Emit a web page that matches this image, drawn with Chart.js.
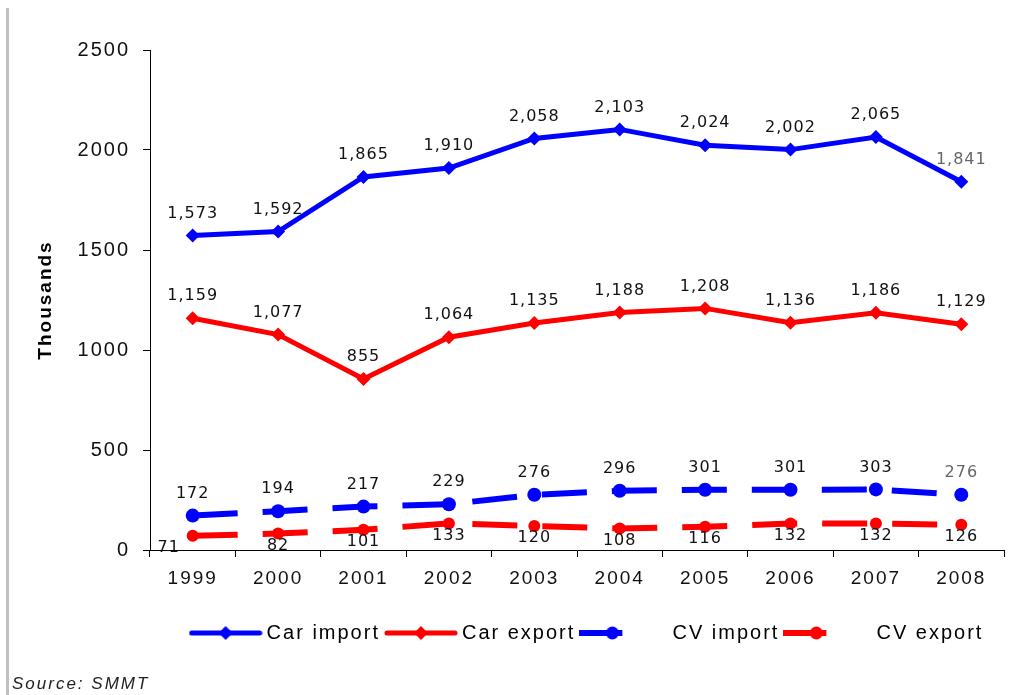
<!DOCTYPE html>
<html>
<head>
<meta charset="utf-8">
<script src="https://cdn.jsdelivr.net/npm/chart.js@4.4.1/dist/chart.umd.min.js"></script>
<style>
  html, body { margin: 0; padding: 0; background: #fff; }
  #wrap { position: relative; width: 1031px; height: 695px; }
  #edge { position: absolute; left: 6px; top: 8px; width: 3px; height: 687px; background: #c0c0c0; }
  #source { position: absolute; left: 12px; top: 674px; font: italic 17px "Liberation Sans", Arial, sans-serif; letter-spacing: 2px; color: #222; }
</style>
</head>
<body>
<div id="wrap">
  <canvas id="chart" width="1031" height="695"></canvas>
  <div id="edge"></div>
  <div id="source">Source: SMMT</div>
</div>
<script>
const years = ['1999', '2000', '2001', '2002', '2003', '2004', '2005', '2006', '2007', '2008'];
const carImport = [1573, 1592, 1865, 1910, 2058, 2103, 2024, 2002, 2065, 1841];
const carExport = [1159, 1077, 855, 1064, 1135, 1188, 1208, 1136, 1186, 1129];
const cvImport = [172, 194, 217, 229, 276, 296, 301, 301, 303, 276];
const cvExport = [71, 82, 101, 133, 120, 108, 116, 132, 132, 126];
const yTicks = [0, 500, 1000, 1500, 2000, 2500];

const BLUE = '#0000ff';
const RED = '#ff0000';

// little legend swatches: line with marker
function makeSample(color, shape) {
  const c = document.createElement('canvas');
  c.width = 74;
  c.height = 16;
  const g = c.getContext('2d');
  g.fillStyle = color;
  g.strokeStyle = color;
  if (shape === 'diamond') {
    g.lineWidth = 5;
    g.lineCap = 'round';
    g.beginPath();
    g.moveTo(3, 8);
    g.lineTo(71, 8);
    g.stroke();
    g.beginPath();
    g.moveTo(37, 1);
    g.lineTo(44, 8);
    g.lineTo(37, 15);
    g.lineTo(30, 8);
    g.closePath();
    g.fill();
  } else {
    g.lineWidth = 6;
    g.beginPath();
    g.moveTo(0, 8);
    g.lineTo(43, 8);
    g.stroke();
    g.beginPath();
    g.arc(33, 8, 6.5, 0, Math.PI * 2);
    g.fill();
  }
  return c;
}

const setSpacing = {
  id: 'setSpacing',
  beforeUpdate(chart) { chart.ctx.letterSpacing = '2px'; },
  beforeLayout(chart) { chart.ctx.letterSpacing = '2px'; },
  afterLayout(chart) {
    // nudge the legend a little to the right, as in the original
    if (chart.legend) { chart.legend.left += 12; chart.legend.right += 12; }
  },
  beforeDraw(chart) { chart.ctx.letterSpacing = '2px'; }
};

const valueLabels = {
  id: 'valueLabels',
  afterDatasetsDraw(chart) {
    const ctx = chart.ctx;
    chart.data.datasets.forEach((ds, i) => {
      const meta = chart.getDatasetMeta(i);
      meta.data.forEach((pt, j) => {
        const v = ds.data[j];
        let x = pt.x;
        let y = ds.labelAt === 'below' ? pt.y + 12 : pt.y - 22;
        if (ds.labelAt === 'below' && j === 0) x -= 24;
        ctx.save();
        ctx.letterSpacing = '1px';
        ctx.font = '16px "DejaVu Sans", Verdana, sans-serif';
        ctx.fillStyle = (j === ds.data.length - 1 && ds.greyLast) ? '#666' : '#111';
        ctx.textAlign = 'center';
        ctx.textBaseline = 'middle';
        ctx.fillText(v.toLocaleString('en-US'), x, y);
        ctx.restore();
      });
    });
  }
};

new Chart(document.getElementById('chart'), {
  type: 'line',
  data: {
    labels: years,
    datasets: [
      {
        label: 'Car import', data: carImport, borderColor: BLUE, backgroundColor: BLUE,
        borderWidth: 5, pointStyle: 'rectRot', pointRadius: 7, pointBorderWidth: 0,
        labelAt: 'above', greyLast: true, legendImg: makeSample(BLUE, 'diamond')
      },
      {
        label: 'Car export', data: carExport, borderColor: RED, backgroundColor: RED,
        borderWidth: 5, pointStyle: 'rectRot', pointRadius: 7, pointBorderWidth: 0,
        labelAt: 'above', legendImg: makeSample(RED, 'diamond')
      },
      {
        label: '  CV import', data: cvImport, borderColor: BLUE, backgroundColor: BLUE,
        borderWidth: 6, borderDash: [45, 25], pointStyle: 'circle', pointRadius: 7, pointBorderWidth: 0,
        labelAt: 'above', greyLast: true, legendImg: makeSample(BLUE, 'circle')
      },
      {
        label: '  CV export', data: cvExport, borderColor: RED, backgroundColor: RED,
        borderWidth: 6, borderDash: [45, 25], pointStyle: 'circle', pointRadius: 6, pointBorderWidth: 0,
        labelAt: 'below', legendImg: makeSample(RED, 'circle')
      }
    ]
  },
  options: {
    responsive: false,
    animation: false,
    layout: { padding: { left: 0, top: 50, right: 27, bottom: 42 } },
    plugins: {
      tooltip: { enabled: false },
      legend: {
        position: 'bottom',
        fullSize: false,
        labels: {
          usePointStyle: true,
          pointStyleWidth: 62,
          padding: 10,
          color: '#333',
          font: { family: '"Liberation Sans", Arial, sans-serif', size: 20 },
          generateLabels(chart) {
            return chart.data.datasets.map((ds, i) => ({
              text: ds.label,
              pointStyle: ds.legendImg,
              fillStyle: ds.borderColor,
              strokeStyle: ds.borderColor,
              lineWidth: 0,
              hidden: false,
              datasetIndex: i
            }));
          }
        }
      }
    },
    scales: {
      x: {
        offset: true,
        afterFit(s) { s.height = 63; },
        grid: { display: true, drawOnChartArea: false, offset: true, tickLength: 7, color: '#000' },
        border: { color: '#000', width: 1 },
        ticks: {
          color: '#111', padding: 10,
          font: { family: '"Liberation Sans", Arial, sans-serif', size: 19 }
        }
      },
      y: {
        min: 0,
        max: 2500,
        afterFit(s) { s.width = 150; },
        afterBuildTicks(s) { s.ticks = yTicks.map(v => ({ value: v })); },
        grid: { display: true, drawOnChartArea: false, tickLength: 7, color: '#000' },
        border: { color: '#000', width: 1 },
        ticks: {
          color: '#111', padding: 13,
          font: { family: '"Liberation Sans", Arial, sans-serif', size: 20 },
          callback: v => String(v)
        },
        title: {
          display: true,
          text: 'Thousands',
          color: '#000',
          padding: { top: 34, bottom: 0 },
          font: { family: '"Liberation Sans", Arial, sans-serif', size: 19, weight: 'bold' }
        }
      }
    }
  },
  plugins: [setSpacing, valueLabels]
});
</script>
</body>
</html>
